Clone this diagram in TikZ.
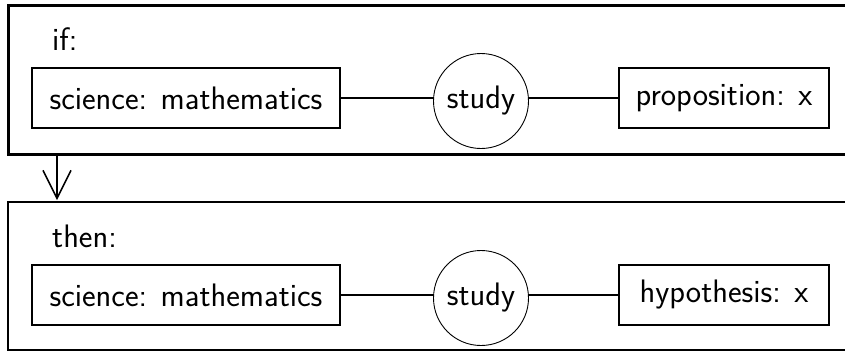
\documentclass[tikz,border=0pt]{standalone}
\usetikzlibrary{arrows.meta}
\begin{document}
\begin{tikzpicture}[x=1pt,y=-1pt,
  every node/.style={font=\sffamily\fontsize{32.5}{38}\selectfont},
  frame/.style={draw,rectangle,inner sep=0pt,anchor=north west},
  term/.style={draw,rectangle,line width=2.6pt,inner sep=0pt,minimum height=60pt},
  rel/.style={draw,circle,line width=0.9pt,inner sep=0pt,minimum size=95pt},
  link/.style={line width=1.8pt},
  label/.style={anchor=base west,inner sep=0pt}]
\useasboundingbox (0,0) rectangle (845,354);
\clip (0,0) rectangle (845,354);
% outer frames
\node[frame,line width=3pt,minimum width=880pt,minimum height=149pt] (ifbox) at (7,4) {};
\node[frame,line width=2pt,minimum width=880pt,minimum height=148.5pt] (thenbox) at (7,200.7) {};
\node[label] (iflab) at (52,50) {if:};
\node[label] (thenlab) at (52,247) {then:};
% if row
\node[term,minimum width=308pt] (s1) at (186,98) {science: mathematics};
\node[rel] (r1) at (481,101) {study};
\node[term,minimum width=210pt] (p1) at (724,98) {proposition: x};
\draw[link] (s1.east) -- (r1.west |- s1.east);
\draw[link] (r1.east |- p1.west) -- (p1.west);
% then row
\node[term,minimum width=308pt] (s2) at (186,295) {science: mathematics};
\node[rel] (r2) at (481,298) {study};
\node[term,minimum width=210pt] (p2) at (724,295) {hypothesis: x};
\draw[link] (s2.east) -- (r2.west |- s2.east);
\draw[link] (r2.east |- p2.west) -- (p2.west);
% implication arrow
\coordinate (a1) at (57,153);
\coordinate (a2) at (57,200);
\draw[line width=1.5pt,-{Straight Barb[length=28pt,width=28pt,line width=1.5pt]}] (a1) -- (a2);
\end{tikzpicture}
\end{document}
